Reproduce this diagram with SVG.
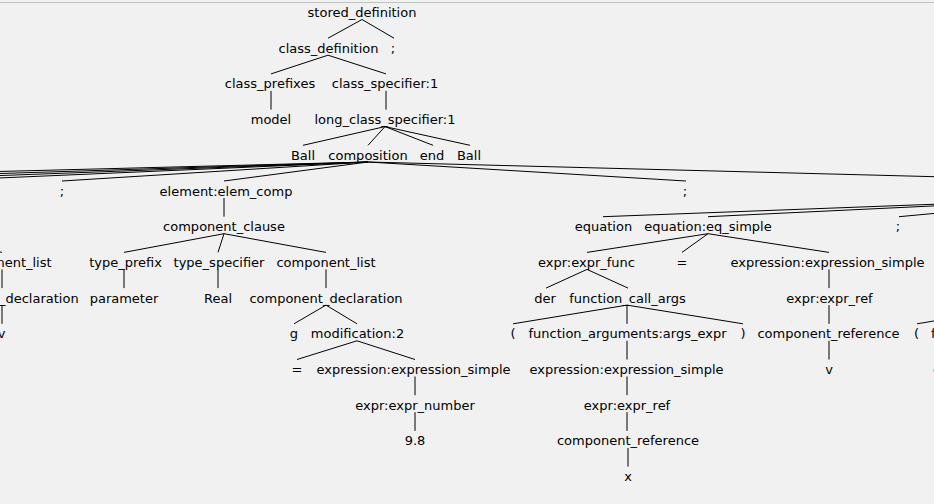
<svg xmlns="http://www.w3.org/2000/svg" width="934" height="504" viewBox="0 0 934 504">
<style>
  text { font-family: "DejaVu Sans", "Liberation Sans", sans-serif; font-size: 13px; fill: #000; text-anchor: middle; }
  #connectors line { stroke: #000; stroke-width: 1; }
</style>
<rect x="0" y="0" width="934" height="504" fill="#f1f1f1"/>
<rect x="0" y="2" width="934" height="1" fill="#c2c2c2"/>
<g id="connectors">
  <line x1="362" y1="19.5" x2="328" y2="38.2"/>
  <line x1="362" y1="19.5" x2="394" y2="38.2"/>
  <line x1="328" y1="55.2" x2="271" y2="73.9"/>
  <line x1="328" y1="55.2" x2="386" y2="73.9"/>
  <line x1="271" y1="90.9" x2="271" y2="109.6"/>
  <line x1="386" y1="90.9" x2="386" y2="109.6"/>
  <line x1="385" y1="126.6" x2="303" y2="145.3"/>
  <line x1="385" y1="126.6" x2="368" y2="145.3"/>
  <line x1="385" y1="126.6" x2="433" y2="145.3"/>
  <line x1="385" y1="126.6" x2="470" y2="145.3"/>
  <line x1="368" y1="162" x2="-372" y2="181"/>
  <line x1="368" y1="162" x2="-240" y2="181"/>
  <line x1="368" y1="162" x2="-148" y2="181"/>
  <line x1="368" y1="162" x2="-71" y2="181"/>
  <line x1="368" y1="162" x2="62" y2="181"/>
  <line x1="368" y1="162" x2="224" y2="181"/>
  <line x1="368" y1="162" x2="686" y2="181"/>
  <line x1="368" y1="162" x2="1100" y2="181"/>
  <line x1="224" y1="198" x2="224" y2="216.7"/>
  <line x1="224" y1="233.7" x2="124" y2="252.4"/>
  <line x1="224" y1="233.7" x2="218" y2="252.4"/>
  <line x1="224" y1="233.7" x2="326" y2="252.4"/>
  <line x1="-71" y1="233.7" x2="2" y2="252.4"/>
  <line x1="124" y1="269.4" x2="124" y2="288.1"/>
  <line x1="218" y1="269.4" x2="218" y2="288.1"/>
  <line x1="326" y1="269.4" x2="326" y2="288.1"/>
  <line x1="2" y1="269.4" x2="2" y2="288.1"/>
  <line x1="2" y1="305.1" x2="2" y2="323.8"/>
  <line x1="326" y1="305.1" x2="294" y2="323.8"/>
  <line x1="326" y1="305.1" x2="357" y2="323.8"/>
  <line x1="357" y1="340.8" x2="297" y2="359.5"/>
  <line x1="357" y1="340.8" x2="415" y2="359.5"/>
  <line x1="415" y1="376.5" x2="415" y2="395.2"/>
  <line x1="415" y1="412.2" x2="415" y2="430.9"/>
  <line x1="1100" y1="198" x2="603" y2="216.7"/>
  <line x1="1100" y1="198" x2="708" y2="216.7"/>
  <line x1="1100" y1="198" x2="899" y2="216.7"/>
  <line x1="708" y1="233.7" x2="587" y2="252.4"/>
  <line x1="708" y1="233.7" x2="682" y2="252.4"/>
  <line x1="708" y1="233.7" x2="829" y2="252.4"/>
  <line x1="587" y1="269.4" x2="546" y2="288.1"/>
  <line x1="587" y1="269.4" x2="628" y2="288.1"/>
  <line x1="829" y1="269.4" x2="829" y2="288.1"/>
  <line x1="627" y1="305.1" x2="513" y2="323.8"/>
  <line x1="627" y1="305.1" x2="627" y2="323.8"/>
  <line x1="627" y1="305.1" x2="743" y2="323.8"/>
  <line x1="829" y1="305.1" x2="829" y2="323.8"/>
  <line x1="627" y1="340.8" x2="627" y2="359.5"/>
  <line x1="829" y1="340.8" x2="829" y2="359.5"/>
  <line x1="627" y1="376.5" x2="627" y2="395.2"/>
  <line x1="627" y1="412.2" x2="627" y2="430.9"/>
  <line x1="628" y1="447.9" x2="628" y2="466.6"/>
  <line x1="1030" y1="305.1" x2="917" y2="323.8"/>
</g>
<g id="n-stored_definition"><text x="362" y="17">stored_definition</text></g>
<g id="n-class_definition"><text x="328.5" y="52.7">class_definition</text></g>
<g id="n-semi0"><text x="393" y="52.7">;</text></g>
<g id="n-class_prefixes"><text x="270" y="88.4">class_prefixes</text></g>
<g id="n-class_specifier"><text x="385" y="88.4">class_specifier:1</text></g>
<g id="n-model"><text x="271" y="124.1">model</text></g>
<g id="n-long_class_specifier"><text x="385" y="124.1">long_class_specifier:1</text></g>
<g id="n-ball1"><text x="303" y="159.8">Ball</text></g>
<g id="n-composition"><text x="368" y="159.8">composition</text></g>
<g id="n-end"><text x="432" y="159.8">end</text></g>
<g id="n-ball2"><text x="469" y="159.8">Ball</text></g>
<g id="n-semi1"><text x="62" y="195.5">;</text></g>
<g id="n-element_g"><text x="226" y="195.5">element:elem_comp</text></g>
<g id="n-semi2"><text x="685" y="195.5">;</text></g>
<g id="n-component_clause_g"><text x="224" y="231.2">component_clause</text></g>
<g id="n-equation"><text x="603.5" y="231.2">equation</text></g>
<g id="n-eq_simple1"><text x="708" y="231.2">equation:eq_simple</text></g>
<g id="n-semi3"><text x="898" y="231.2">;</text></g>
<g id="n-component_list_v"><text x="2" y="266.9">component_list</text></g>
<g id="n-type_prefix"><text x="125.5" y="266.9">type_prefix</text></g>
<g id="n-type_specifier"><text x="219" y="266.9">type_specifier</text></g>
<g id="n-component_list_g"><text x="326" y="266.9">component_list</text></g>
<g id="n-expr_func1"><text x="586.5" y="266.9">expr:expr_func</text></g>
<g id="n-eq_sign1"><text x="682" y="266.9">=</text></g>
<g id="n-rhs1"><text x="827.5" y="266.9">expression:expression_simple</text></g>
<g id="n-component_declaration_v"><text x="2" y="302.6">component_declaration</text></g>
<g id="n-parameter"><text x="124" y="302.6">parameter</text></g>
<g id="n-real"><text x="218" y="302.6">Real</text></g>
<g id="n-component_declaration_g"><text x="326" y="302.6">component_declaration</text></g>
<g id="n-der1"><text x="545" y="302.6">der</text></g>
<g id="n-fca1"><text x="627.5" y="302.6">function_call_args</text></g>
<g id="n-expr_ref_v"><text x="829.5" y="302.6">expr:expr_ref</text></g>
<g id="n-v_decl"><text x="1.5" y="338.3">v</text></g>
<g id="n-g"><text x="294" y="338.3">g</text></g>
<g id="n-modification"><text x="357.5" y="338.3">modification:2</text></g>
<g id="n-lparen1"><text x="513" y="338.3">(</text></g>
<g id="n-args1"><text x="627.5" y="338.3">function_arguments:args_expr</text></g>
<g id="n-rparen1"><text x="743" y="338.3">)</text></g>
<g id="n-component_reference_v"><text x="828.5" y="338.3">component_reference</text></g>
<g id="n-lparen2"><text x="916.5" y="338.3">(</text></g>
<g id="n-args2"><text x="1030" y="338.3">function_arguments:args_expr</text></g>
<g id="n-eq_sign_mod"><text x="297" y="374">=</text></g>
<g id="n-expr_simple_g"><text x="413.5" y="374">expression:expression_simple</text></g>
<g id="n-expr_simple_x"><text x="626.5" y="374">expression:expression_simple</text></g>
<g id="n-v_ref"><text x="829" y="374">v</text></g>
<g id="n-expr_simple_2"><text x="1030" y="374">expression:expression_simple</text></g>
<g id="n-expr_number"><text x="415" y="409.7">expr:expr_number</text></g>
<g id="n-expr_ref_x"><text x="627" y="409.7">expr:expr_ref</text></g>
<g id="n-num"><text x="415" y="445.4">9.8</text></g>
<g id="n-component_reference_x"><text x="628" y="445.4">component_reference</text></g>
<g id="n-x"><text x="628" y="481.1">x</text></g>
</svg>
